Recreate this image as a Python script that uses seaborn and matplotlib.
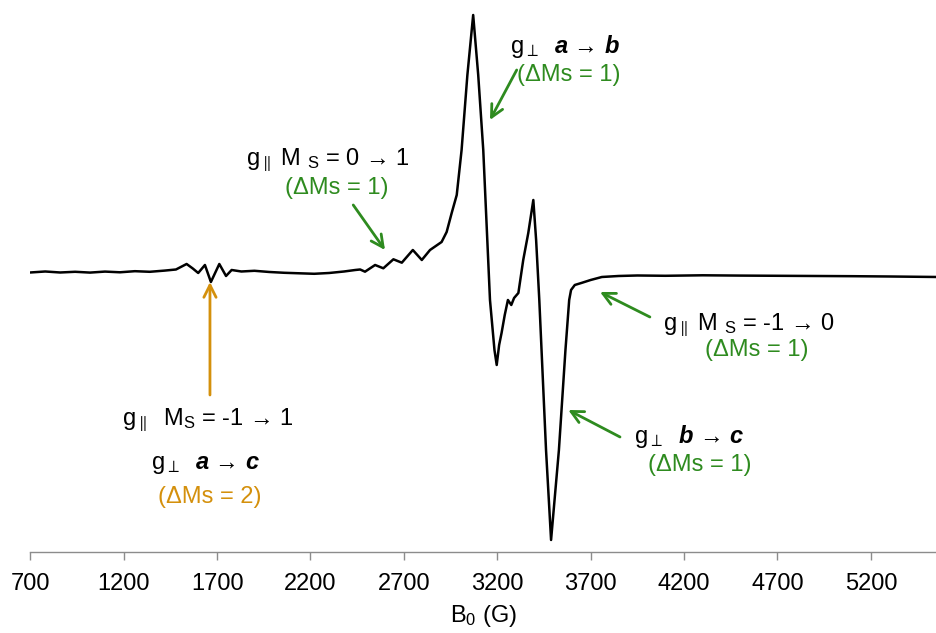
import pandas as pd
import matplotlib.pyplot as plt
import seaborn as sns

# EPR spectrum (field in G, intensity in a.u.)
field_G = [700, 780, 860, 940, 1020, 1100, 1180, 1260, 1340, 1420, 1480, 1537, 1570, 1599,
           1635, 1667, 1712, 1748, 1778, 1830, 1900, 1980, 2060, 2140, 2220, 2300, 2380,
           2440, 2466, 2492, 2546, 2590, 2644, 2689, 2748, 2796, 2840, 2902, 2929, 2956,
           2983, 3009, 3040, 3071, 3098, 3125, 3161, 3185, 3197, 3210, 3223, 3240, 3257,
           3275, 3290, 3313, 3339, 3366, 3393, 3408, 3425, 3461, 3488, 3530, 3565, 3585,
           3595, 3615, 3650, 3700, 3760, 3850, 3950, 4100, 4300, 4500, 4700, 4900, 5100,
           5300, 5554]
intensity = [-0.5, 0.5, -0.5, 0.2, -0.6, 0.4, -0.3, 0.8, 0.2, 1.4, 2.5, 8, 3.5, -1,
             7, -10, 8, -4, 2, 0.5, 1.2, 0, -0.8, -1.3, -1.8, -1, 0.5,
             2, 2.5, 0.3, 7, 3.7, 12.7, 9.3, 22, 12, 22, 30, 40, 59,
             77, 122, 197, 257, 197, 122, -28, -78, -93, -73, -61, -43, -28,
             -33, -26, -21, 12, 39, 72, 32, -28, -178, -268, -178, -78, -28,
             -18, -13, -11, -8, -5, -4, -3.5, -3.8, -3.3, -3.6, -3.8, -4, -4.2,
             -4.5, -5]

x_ticks = [700, 1200, 1700, 2200, 2700, 3200, 3700, 4200, 4700, 5200]

green = '#2e8b1f'
orange = '#d4900c'
arrow = '→'

sns.set_style('white')
plt.rcParams['font.family'] = ['Liberation Sans', 'DejaVu Sans']
plt.rcParams['text.color'] = 'black'
plt.rcParams['axes.labelcolor'] = 'black'
plt.rcParams['mathtext.fontset'] = 'custom'
plt.rcParams['mathtext.rm'] = 'Liberation Sans'
plt.rcParams['mathtext.it'] = 'Liberation Sans:italic'
plt.rcParams['mathtext.bf'] = 'Liberation Sans:bold'
plt.rcParams['mathtext.bfit'] = 'Liberation Sans:italic:bold'

df = pd.DataFrame({'B': field_G, 'I': intensity})

fig = plt.figure(figsize=(9.37, 6.33), dpi=100)
ax = fig.add_axes([0.0323, 0.128, 0.9677, 0.872])
sns.lineplot(data=df, x='B', y='I', color='black', linewidth=1.8, ax=ax)

ax.set_xlim(700, 5554)
ax.set_ylim(-280, 272)
for s in ['top', 'right', 'left']:
    ax.spines[s].set_visible(False)
ax.spines['bottom'].set_color('#8c8c8c')
ax.spines['bottom'].set_linewidth(1)
ax.set_yticks([])
ax.set_xticks(x_ticks)
ax.tick_params(axis='x', direction='out', length=6, width=1, color='#8c8c8c',
               labelcolor='black', pad=9, labelsize=17, bottom=True)
ax.set_xlabel(r'B$_0$ (G)', fontsize=17, labelpad=6)
ax.set_ylabel('')

fs = 17
arrow_kw = dict(arrowstyle='->', lw=2, mutation_scale=22, shrinkA=0, shrinkB=0)

# g_perp a -> b
ax.text(3562, 225, r'g$_{\perp}$  $\mathbfit{a}$ ' + arrow + r' $\mathbfit{b}$', fontsize=fs, ha='center', va='center')
ax.text(3583, 197, '(ΔMs = 1)', fontsize=fs, color=green, ha='center', va='center')
ax.annotate('', xy=(3161, 152), xytext=(3304, 202), arrowprops=dict(color=green, **arrow_kw))

# g_par Ms = 0 -> 1
ax.text(2293, 112, r'g$_{\parallel}$ M $_{\mathrm{S}}$ = 0 ' + arrow + ' 1', fontsize=fs, ha='center', va='center')
ax.text(2341, 84, '(ΔMs = 1)', fontsize=fs, color=green, ha='center', va='center')
ax.annotate('', xy=(2599, 22), xytext=(2429, 67), arrowprops=dict(color=green, **arrow_kw))

# g_par Ms = -1 -> 0
ax.text(4547, -53, r'g$_{\parallel}$ M $_{\mathrm{S}}$ = -1 ' + arrow + ' 0', fontsize=fs, ha='center', va='center')
ax.text(4590, -78, '(ΔMs = 1)', fontsize=fs, color=green, ha='center', va='center')
ax.annotate('', xy=(3750, -20), xytext=(4017, -45), arrowprops=dict(color=green, **arrow_kw))

# g_perp b -> c
ax.text(4227, -165, r'g$_{\perp}$  $\mathbfit{b}$ ' + arrow + r' $\mathbfit{c}$', fontsize=fs, ha='center', va='center')
ax.text(4285, -193, '(ΔMs = 1)', fontsize=fs, color=green, ha='center', va='center')
ax.annotate('', xy=(3580, -138), xytext=(3857, -165), arrowprops=dict(color=green, **arrow_kw))

# half-field transition
ax.text(1651, -148, r'g$_{\parallel}$  $\mathrm{M}_{\mathrm{S}}$ = -1 ' + arrow + ' 1', fontsize=fs, ha='center', va='center')
ax.text(1640, -193, r'g$_{\perp}$  $\mathbfit{a}$ ' + arrow + r' $\mathbfit{c}$', fontsize=fs, ha='center', va='center')
ax.text(1662, -225, '(ΔMs = 2)', fontsize=fs, color=orange, ha='center', va='center')
ax.annotate('', xy=(1662, -10), xytext=(1662, -123), arrowprops=dict(color=orange, **arrow_kw))

plt.savefig('out.png', dpi=100)
